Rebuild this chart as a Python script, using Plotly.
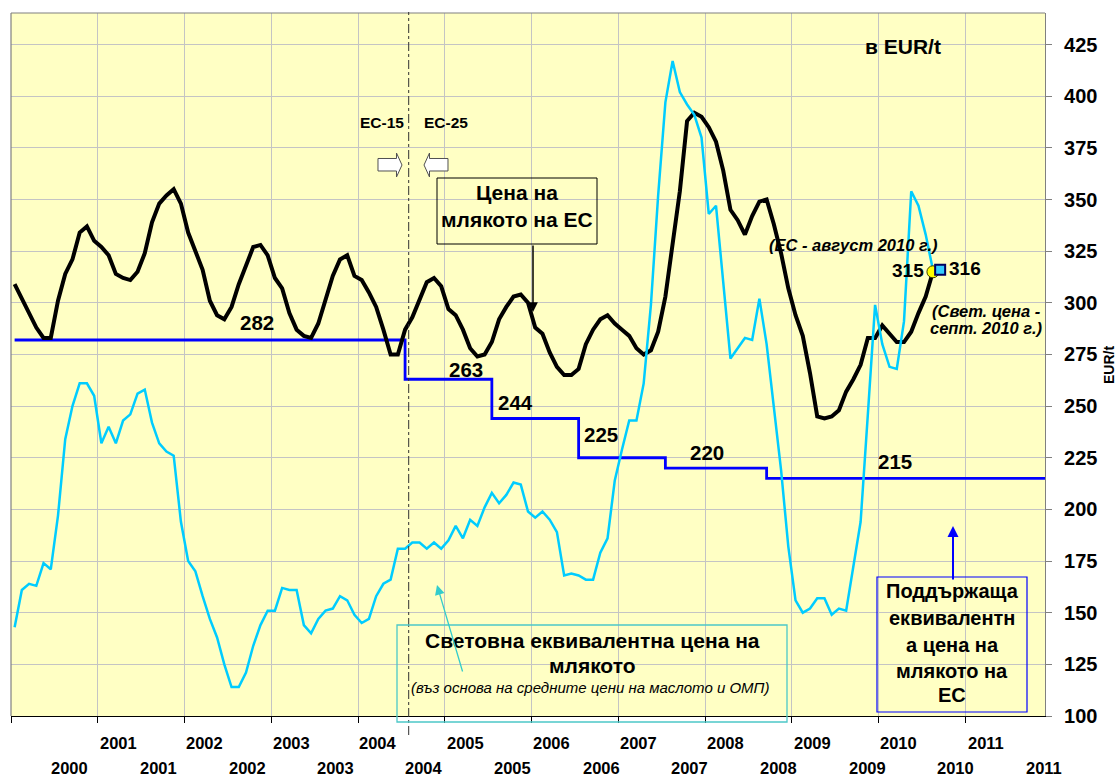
import plotly.graph_objects as go

# ---------------- data ----------------
year_labels = ['2000', '2001', '2002', '2003', '2004', '2005',
               '2006', '2007', '2008', '2009', '2010', '2011']

# EU milk price, monthly from Jan 2000 to Aug 2010 (EUR/t)
eu_price = [309, 302, 295, 288, 283, 283, 301, 314, 321, 334, 337, 330,
            327, 323, 314, 312, 311, 315, 324, 339, 348, 352, 355, 348,
            334, 325, 316, 301, 294, 292, 298, 309, 318, 327, 328, 323,
            312, 307, 295, 287, 284, 283, 290, 302, 313, 321, 323, 313,
            311, 305, 298, 287, 275, 275, 287, 293, 302, 310, 312, 308,
            297, 294, 287, 278, 274, 275, 281, 292, 298, 303, 304, 300,
            288, 285, 276, 269, 265, 265, 268, 280, 287, 292, 294, 290,
            287, 284, 278, 275, 277, 286, 303, 328, 354, 388, 392, 390,
            385, 378, 364, 345, 340, 333, 342, 349, 350, 338, 324, 307,
            294, 284, 266, 245, 244, 245, 248, 257, 263, 270, 283, 283,
            289, 285, 281, 281, 286, 295, 303, 315]

# World equivalent milk price, monthly from Jan 2000 to Sep 2010 (EUR/t)
world_price = [143, 161, 164, 163, 174, 171, 197, 234, 250, 261, 261, 255,
               232, 240, 232, 243, 246, 256, 258, 242, 232, 228, 226, 194,
               175, 170, 158, 147, 138, 125, 114, 114, 121, 134, 144, 151,
               151, 162, 161, 161, 144, 140, 147, 151, 152, 158, 156, 149,
               145, 147, 158, 164, 166, 181, 181, 184, 184, 181, 184, 181,
               185, 192, 186, 195, 192, 201, 208, 203, 207, 213, 212, 199,
               196, 199, 195, 189, 168, 169, 168, 166, 166, 179, 186, 214,
               229, 243, 243, 261, 299, 352, 397, 417, 402, 396, 391, 380,
               343, 347, 310, 273, 278, 283, 282, 302, 280, 251, 219, 182,
               156, 150, 152, 157, 157, 149, 152, 151, 172, 194, 246, 299,
               280, 269, 268, 291, 354, 347, 333, 316, 316]

# EU support equivalent price: month index where each level starts
support_start = [0, 54, 66, 78, 90, 104]
support_level = [282, 263, 244, 225, 220, 215]
axis_end_month = 143

eu_last_label = 315
world_last_label = 316

# ---------------- geometry helpers ----------------
W, H = 1120, 778
L, R, T, B = 11, 75, 13, 62
PW, PH = W - L - R, H - T - B
Y0 = 100
YPX = 51.65 / 25.0
YMAX = Y0 + PH / YPX


def px(x):
    return (x - L) / PW


def py(y):
    return (H - B - y) / PH


FONT = "Liberation Sans"

x_eu = [i + 0.5 for i in range(len(eu_price))]
x_world = [i + 0.5 for i in range(len(world_price))]

step_x = [s + 0.5 for s in support_start] + [axis_end_month]
step_y = support_level + [support_level[-1]]

fig = go.Figure()

fig.add_trace(go.Scatter(x=step_x, y=step_y, mode='lines', line_shape='hv',
                         line=dict(color='#0000FF', width=2.8),
                         hoverinfo='skip', showlegend=False))
fig.add_trace(go.Scatter(x=x_eu, y=eu_price, mode='lines',
                         line=dict(color='#000000', width=4),
                         hoverinfo='skip', showlegend=False))
fig.add_trace(go.Scatter(x=x_world, y=world_price, mode='lines',
                         line=dict(color='#00CCFF', width=2.5),
                         hoverinfo='skip', showlegend=False))
fig.add_trace(go.Scatter(x=[x_eu[-1]], y=[eu_last_label], mode='markers',
                         marker=dict(symbol='circle', size=12, color='#FFFF00',
                                     line=dict(color='#404000', width=1)),
                         hoverinfo='skip', showlegend=False))
fig.add_trace(go.Scatter(x=[x_world[-1]], y=[world_last_label], mode='markers',
                         marker=dict(symbol='square', size=10, color='#33CCFF',
                                     line=dict(color='#000060', width=2)),
                         hoverinfo='skip', showlegend=False))

annotations = []


def txt(text, x, y, size, bold=True, italic=False, xanchor='center', angle=0):
    t = text
    if italic:
        t = '<i>' + t + '</i>'
    if bold:
        t = '<b>' + t + '</b>'
    annotations.append(dict(text=t, x=px(x), y=py(y), xref='paper', yref='paper',
                            xanchor=xanchor, yanchor='middle', showarrow=False,
                            textangle=angle,
                            font=dict(family=FONT, size=size, color='black')))


# year labels (two rows)
for k, lab in enumerate(year_labels):
    if k > 0:
        annotations.append(dict(text='<b>' + lab + '</b>', x=12 * k + 2.8, y=py(743),
                                xref='x', yref='paper', showarrow=False,
                                xanchor='center', yanchor='middle',
                                font=dict(family=FONT, size=16.5, color='black')))
    annotations.append(dict(text='<b>' + lab + '</b>', x=8.14 + 12.25 * k, y=py(768),
                            xref='x', yref='paper', showarrow=False,
                            xanchor='center', yanchor='middle',
                            font=dict(family=FONT, size=16.5, color='black')))

# level labels
level_pos = [(257, 322), (466, 369), (515, 402), (601, 435), (707, 453), (895, 462)]
for lev, (lx, ly) in zip(support_level, level_pos):
    txt(str(lev), lx, ly, 20.5)

txt('в EUR/t', 903, 46, 21)
txt('ЕС-15', 382, 122, 15.5)
txt('ЕС-25', 446, 122, 15.5)
txt('Цена на', 517, 193, 21)
txt('млякото на ЕС', 517, 220, 21)
txt('(ЕС - август 2010 г.)', 853, 245, 16.5, italic=True)
txt(str(eu_last_label), 908, 270, 19)
txt(str(world_last_label), 965, 268, 19)
txt('(Свет. цена -', 986, 311, 16.5, italic=True)
txt('септ. 2010 г.)', 986, 328, 16.5, italic=True)
txt('Световна еквивалентна цена на', 592, 640, 21)
txt('млякото', 592, 665, 21)
txt('(въз основа на средните цени на маслото и ОМП)', 590, 687, 15, bold=False, italic=True)
for line, ly in zip(['Поддържаща', 'еквивалентн', 'а цена на', 'млякото на', 'ЕС'],
                    [591, 618, 645, 671, 695]):
    txt(line, 952, ly, 20)
txt('EUR/t', 1109, 365, 14, angle=-90)

# arrows


def arrow(tipx, tipy, tailx, taily, color, width, size=1.0, head=2):
    annotations.append(dict(text='', x=px(tipx), y=py(tipy), xref='paper', yref='paper',
                            ax=tailx - tipx, ay=taily - tipy, axref='pixel', ayref='pixel',
                            showarrow=True, arrowhead=head, arrowsize=size,
                            arrowwidth=width, arrowcolor=color, standoff=0))


arrow(533, 312, 533, 244, '#000000', 1.5, 1.3)
arrow(437, 585, 463, 673, '#33CCCC', 1.3, 1.5)
arrow(953, 526, 953, 581, '#0000FF', 2, 1.1)

shapes = []


def rect(x0, y0, x1, y1, color, width=1.2):
    shapes.append(dict(type='rect', xref='paper', yref='paper',
                       x0=px(x0), x1=px(x1), y0=py(y1), y1=py(y0),
                       line=dict(color=color, width=width), fillcolor='rgba(0,0,0,0)',
                       layer='above'))


def path(points, fill, color):
    d = 'M ' + ' L '.join(f'{px(a):.5f},{py(b):.5f}' for a, b in points) + ' Z'
    shapes.append(dict(type='path', xref='paper', yref='paper', path=d,
                       fillcolor=fill, line=dict(color=color, width=1), layer='above'))


# plot border (top and left gray)
shapes.append(dict(type='line', xref='paper', yref='paper', x0=0, x1=1, y0=1, y1=1,
                   line=dict(color='#808080', width=1.2), layer='above'))
shapes.append(dict(type='line', xref='paper', yref='paper', x0=0, x1=0, y0=0, y1=1,
                   line=dict(color='#808080', width=1.2), layer='above'))

# enlargement marker line
shapes.append(dict(type='line', xref='x', yref='paper', x0=55, x1=55,
                   y0=py(735), y1=py(12),
                   line=dict(color='#303030', width=1, dash='dashdot'), layer='above'))

# block arrows
path([(378, 158.5), (396.5, 158.5), (396.5, 153), (402, 165), (396.5, 177),
      (396.5, 171), (378, 171)], 'white', '#505050')
path([(448, 158.5), (429.5, 158.5), (429.5, 153), (424, 165), (429.5, 177),
      (429.5, 171), (448, 171)], 'white', '#505050')

# text boxes
rect(437, 178, 597, 244, '#000000', 1)
rect(397, 625, 787, 722, '#4CC8C8', 1.3)
rect(877, 577, 1027, 712, '#0000FF', 1.2)

fig.update_layout(
    width=W, height=H,
    margin=dict(l=L, r=R, t=T, b=B, pad=0),
    paper_bgcolor='white',
    plot_bgcolor='#FFFFC4',
    showlegend=False,
    annotations=annotations,
    shapes=shapes,
    xaxis=dict(range=[0, axis_end_month], tickvals=list(range(0, 133, 12)),
               ticktext=[''] * 12, ticks='outside', ticklen=6, tickcolor='black',
               showline=True, linecolor='black', linewidth=1.2,
               showgrid=True, gridcolor='#C4C4C4', gridwidth=1, zeroline=False,
               fixedrange=True),
    yaxis=dict(range=[Y0, YMAX], side='right', tickvals=list(range(100, 426, 25)),
               ticks='outside', ticklen=6, tickcolor='#808080',
               showline=True, linecolor='#808080', linewidth=1.2,
               showgrid=True, gridcolor='#C4C4C4', gridwidth=1, zeroline=False,
               tickfont=dict(family=FONT, size=20, color='black', weight='bold'),
               ticklabelstandoff=8, fixedrange=True),
)

fig.write_html('out.html', config={'displayModeBar': False},
               post_script="document.body.style.margin='0px';document.body.style.padding='0px';")
